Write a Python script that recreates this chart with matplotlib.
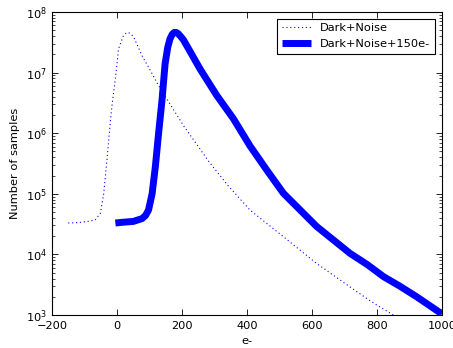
import matplotlib
matplotlib.use('Agg')
import matplotlib.pyplot as plt
import numpy as np

# values (e-, number of samples)
dark_x = [-150, -120, -90, -67, -51, -41, -31, -20, -15, -5, 5, 20, 28, 34, 42, 51, 77, 102,
          125, 153, 204, 281, 340, 409, 512, 614, 717, 780, 845, 900]
dark_y = [3.3e4, 3.35e4, 3.5e4, 3.7e4, 4.8e4, 1.0e5, 3.6e5, 1.65e6, 3.0e6, 8.0e6, 2.5e7,
          4.1e7, 4.5e7, 4.6e7, 4.4e7, 3.9e7, 1.9e7, 1.1e7, 6.5e6, 3.7e6, 1.35e6, 3.5e5,
          1.4e5, 5.4e4, 1.96e4, 7.1e3, 2.9e3, 1.7e3, 1.04e3, 6.5e2]

sig_x = [-5, 20, 50, 77, 88, 97, 108, 118, 128, 138, 148, 156, 163, 170, 176, 182, 188,
         195, 204, 230, 255, 307, 358, 409, 460, 512, 614, 717, 770, 820, 870, 922, 989, 1000]
sig_y = [3.3e4, 3.4e4, 3.5e4, 3.9e4, 4.4e4, 5.4e4, 1.0e5, 2.8e5, 1.0e6, 3.3e6, 1.4e7,
         2.6e7, 3.6e7, 4.3e7, 4.6e7, 4.6e7, 4.4e7, 4.0e7, 3.5e7, 2.0e7, 1.16e7, 4.2e6,
         1.74e6, 6.2e5, 2.5e5, 1.02e5, 2.9e4, 1.04e4, 6.8e3, 4.3e3, 3.0e3, 2.0e3, 1.14e3,
         1.05e3]

plt.rcParams['font.size'] = 8.2
plt.rcParams['xtick.direction'] = 'in'
plt.rcParams['ytick.direction'] = 'in'
plt.rcParams['xtick.top'] = True
plt.rcParams['ytick.right'] = True

fig = plt.figure(figsize=(4.53, 3.48), dpi=100)
ax = fig.add_axes([0.1148, 0.0948, 0.8609, 0.8707])

ax.plot(dark_x, dark_y, color='b', linestyle=(0, (1, 2.5)), linewidth=0.8, label='Dark+Noise')
ax.plot(sig_x, sig_y, color='b', linestyle='-', linewidth=5.0, label='Dark+Noise+150e-',
        solid_capstyle='butt', solid_joinstyle='round')

ax.set_yscale('log')
ax.set_xlim(-200, 1000)
ax.set_ylim(1e3, 1e8)
ax.set_xticks([-200, 0, 200, 400, 600, 800, 1000])
ax.tick_params(which='major', length=4, width=0.6)
ax.tick_params(which='minor', length=2, width=0.5)
ax.tick_params(axis='x', pad=4)
ax.set_xlabel('e-')
ax.set_ylabel('Number of samples')

leg = ax.legend(loc='upper right', fancybox=False, framealpha=1, edgecolor='black',
                handlelength=2.6, borderaxespad=0.6)
leg.get_frame().set_linewidth(0.8)

fig.savefig('out.png', dpi=100)
